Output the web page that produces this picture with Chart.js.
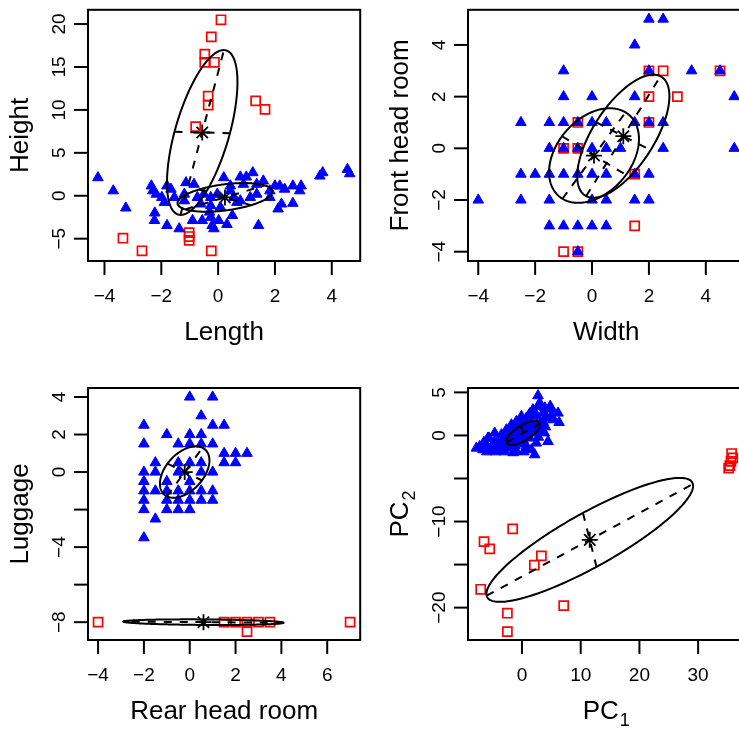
<!DOCTYPE html>
<html>
<head>
<meta charset="utf-8">
<script src="https://cdn.jsdelivr.net/npm/chart.js@4.4.1/dist/chart.umd.min.js"></script>
<style>
  html, body { margin: 0; padding: 0; background: #fff; width: 739px; height: 730px; overflow: hidden; }
  canvas { position: absolute; }
</style>
</head>
<body>
<canvas id="p1" width="370" height="365" style="left:0;top:0;width:370px;height:365px"></canvas>
<canvas id="p2" width="390" height="365" style="left:370px;top:0;width:390px;height:365px"></canvas>
<canvas id="p3" width="370" height="365" style="left:0;top:365px;width:370px;height:365px"></canvas>
<canvas id="p4" width="390" height="365" style="left:370px;top:365px;width:390px;height:365px"></canvas>
<script>
// ---- Panel 1: Length vs Height ----
const lengthHeightBlue = [
  [-4.23, 2.11], [-3.69, 0.58], [-3.25, -1.42], [-2.35, 1.15], [-2.30, 0.58],
  [-2.18, 0.19], [-1.80, 1.15], [-1.98, -0.19], [-1.89, -0.77], [-2.24, -2.88],
  [-1.80, -3.46], [-1.37, -3.84], [-1.13, 1.53], [-0.85, 1.34], [-1.19, 0.19],
  [-1.19, -0.58], [-0.90, -2.88], [-0.56, -2.88], [-0.26, -2.50], [-0.21, -3.46],
  [-0.15, -3.84], [0.02, -2.88], [0.31, -3.34], [0.20, 2.11], [0.43, 1.15],
  [0.78, 2.19], [0.99, 2.19], [1.22, 2.69], [0.89, 1.34], [1.36, 1.34],
  [1.59, 1.73], [1.82, 0.58], [2.00, 1.15], [2.17, 1.15], [2.34, 0.77],
  [2.63, 1.15], [2.92, 1.15], [2.87, 0.58], [2.23, -0.96], [2.11, -1.53],
  [2.63, -0.88], [1.42, -3.46], [3.58, 2.30], [3.68, 2.69], [4.55, 3.07],
  [4.63, 2.57], [-0.50, 0.19], [-0.26, -0.19], [-0.03, 0.19], [0.55, -0.19],
  [0.78, -0.58], [1.13, -0.19], [1.36, 0.19], [-0.61, -0.96], [-0.26, -1.15],
  [0.08, -1.34], [0.66, -0.77], [0.43, 0.58], [-0.73, -0.19], [-1.54, -0.19],
  [-1.66, 0.77], [1.82, -0.19], [-2.23, -2.0], [-0.30, -1.9], [0.50, -2.3]
];
const lengthHeightRed = [
  [0.10, 20.5], [-0.24, 18.5], [-0.47, 16.5], [-0.47, 15.55], [-0.13, 15.55],
  [-0.35, 11.6], [-0.35, 10.56], [1.32, 11.06], [1.65, 10.06], [-0.79, 8.06],
  [-3.35, -4.95], [-2.68, -6.41], [-1.02, -4.3], [-1.02, -4.75], [-1.02, -5.2],
  [-0.24, -6.42]
];
// ellipse: centre, x/y extent, correlation
const lengthHeightEllipses = [
  { cx: 0.24, cy: -0.19, sx: 1.67, sy: 1.67, r: 0.4 },
  { cx: -0.56, cy: 7.37, sx: 1.24, sy: 9.6, r: 0.61 }
];
const lengthTicks = [-4, -2, 0, 2, 4];
const heightTicks = [-5, 0, 5, 10, 15, 20];

// ---- Panel 2: Width vs Front head room ----
const widthFrontBlue = [
  [2, 5], [2.5, 5], [1.5, 4], [-1, 3], [2, 3], [3.5, 3], [4.5, 3],
  [-1, 2], [0, 2], [1.5, 2], [5, 2],
  [-2.5, 1], [-1.5, 1], [-1, 1], [-0.5, 1], [0, 1], [0.5, 1], [1.5, 1], [2, 1], [2.5, 1],
  [-1.5, 0], [-1, 0], [-0.5, 0], [0, 0], [0.5, 0], [1, 0], [2.5, 0], [5, 0],
  [-2.5, -1], [-2, -1], [-1.5, -1], [-1, -1], [-0.5, -1], [0, -1], [0.5, -1], [1.5, -1], [2, -1],
  [-4, -2], [-2.5, -2], [-1.5, -2], [0, -2], [0.5, -2], [1.5, -2], [2, -2],
  [-1.5, -3], [-1, -3], [-0.5, -3], [0, -3], [0.5, -3],
  [-0.5, -4]
];
const widthFrontRed = [
  [2, 3], [2.5, 3], [4.5, 3], [2, 2], [3, 2], [-0.5, 1], [2, 1],
  [-1, 0], [-0.5, 0], [1.5, -1], [1.5, -3], [-1, -4], [-0.5, -4]
];
const widthFrontEllipses = [
  { cx: 0.07, cy: -0.28, sx: 1.58, sy: 1.83, r: 0.35 },
  { cx: 1.10, cy: 0.47, sx: 1.62, sy: 2.38, r: 0.65 }
];
const widthTicks = [-4, -2, 0, 2, 4];
const frontTicks = [-4, -2, 0, 2, 4];

// ---- Panel 3: Rear head room vs Luggage ----
const rearLuggageBlue = [
  [0, 4], [1, 4], [0.5, 3], [-2, 2.5], [1, 2.5], [1.5, 2.5], [-1, 2], [0, 2], [0.5, 2],
  [-2, 1.5], [-0.5, 1.5], [0, 1.5], [0.5, 1.5], [1, 1.5], [1.5, 1], [2, 1], [2.5, 1],
  [-1.5, 0.5], [-0.5, 0.5], [0, 0.5], [0.5, 0.5], [1.5, 0.5], [2, 0.5],
  [-2, 0], [-1.5, 0], [-0.5, 0], [0.5, 0], [1, 0],
  [-2, -0.5], [-1, -0.5], [0, -0.5],
  [-2, -1], [-1.5, -1], [-1, -1], [-0.5, -1], [0, -1], [0.5, -1], [1, -1],
  [-2, -1.5], [-1, -1.5], [-0.5, -1.5], [0, -1.5], [0.5, -1.5], [1, -1.5],
  [-2, -2], [-1, -2], [-0.5, -2], [0, -2], [-1.5, -2.5], [-2, -3.5]
];
const rearLuggageRed = [
  [-4, -8], [1.5, -8], [2, -8], [2.5, -8], [2.5, -8.5], [3, -8], [3.5, -8], [7, -8]
];
const rearLuggageEllipses = [
  { cx: -0.22, cy: 0.0, sx: 1.08, sy: 1.37, r: 0.45 },
  { cx: 0.6, cy: -8.0, sx: 3.5, sy: 0.15, r: -0.2 }
];
const rearTicks = [-4, -2, 0, 2, 4, 6];
const luggageTicks = [-8, -6, -4, -2, 0, 2, 4];
const luggageLabels = [-8, -4, 0, 2, 4];

// ---- Panel 4: PC1 vs PC2 ----
const pcBlue = [
  [2.73, 4.62], [2.73, 3.38], [1.43, 2.6], [5.01, 3.07], [6.14, 2.6], [6.31, 1.51],
  [4.26, 2.02], [3.58, 1.63], [4.43, -0.7], [2.16, -2.24], [-5.62, -0.3], [-7.77, -1.47],
  [-6.65, -1.66], [-5.22, -1.66], [-4.09, -1.28], [-3.24, -0.7], [-2.66, 0.66], [-1.81, 1.24],
  [-0.95, 1.63], [-0.39, 1.05], [0.46, 1.44], [1.02, 0.66], [1.87, 0.28], [3.02, 0.66],
  [0.17, -0.5], [-0.95, -0.88], [-2.1, -1.47], [-0.95, -1.86], [0.75, -1.28], [1.31, -0.3],
  [-3.51, 0.08], [-4.65, 0.28], [-6.07, -1.08], [-1.53, 0.28], [-0.1, 2.21], [0.75, 2.02],
  [2.45, 1.44], [-2.66, -0.7], [-7.2, -1.28], [-4.65, -0.7], [-0.68, -0.12], [-2.38, -0.12],
  [2.45, -0.88], [1.6, -1.66], [-3.24, -1.66], [3.58, 2.6], [1.87, 2.99], [3.02, 3.77],
  [5.28, 1.83], [-5.8, -0.3], [-1.2, 0.9], [0.9, 0.1], [-1.9, -0.6], [1.5, 1.7],
  [-3.0, -1.9], [-1.5, -2.0], [0.3, -1.9], [-4.5, -1.9], [-6.0, -1.9], [-2.0, 0.3],
  [-1.0, 0.5], [0.0, 0.8], [1.0, 1.2], [2.0, 1.0], [3.0, 1.3], [4.0, 1.0],
  [5.0, 2.3], [4.8, 3.4], [3.9, 3.2], [2.5, 2.3], [1.2, 2.4], [0.2, 1.8],
  [-0.5, 0.2], [-3.0, -0.3], [-4.0, -0.9], [-5.0, -1.2], [-6.5, -0.8], [-2.5, -1.2],
  [-1.2, -1.2], [0.5, -1.0], [2.8, -0.2], [3.8, 0.3], [-3.5, -1.3], [-1.5, -0.3]
];
const pcRed = [
  [-1.59, -10.85], [-6.47, -12.33], [-5.5, -13.17], [3.3, -13.99], [2.1, -15.07],
  [-7.04, -17.87], [7.1, -19.77], [-2.49, -20.65], [-2.49, -22.79],
  [35.7, -2.1], [35.9, -2.6], [35.6, -3.0], [35.4, -3.5], [35.2, -3.8]
];
const pcEllipses = [
  { cx: 0.17, cy: 0.28, sx: 2.85, sy: 1.4, r: 0.7 },
  { cx: 11.54, cy: -12.13, sx: 17.6, sy: 7.2, r: 0.87 }
];
const pc1Ticks = [0, 10, 20, 30];
const pc2Ticks = [-20, -15, -10, -5, 0, 5];
const pc2Labels = [-20, -10, 0, 5];

const FONT = '"Liberation Sans", Arial, Helvetica, sans-serif';

function fmtTick(v) {
  return v < 0 ? "\u2212" + Math.abs(v) : String(v);
}

function drawEllipse(ctx, xs, ys, e) {
  const d = Math.acos(e.r);
  ctx.setLineDash([]);
  ctx.beginPath();
  for (let i = 0; i <= 240; i++) {
    const t = (i / 240) * Math.PI * 2;
    const px = xs.getPixelForValue(e.cx + e.sx * Math.cos(t + d / 2));
    const py = ys.getPixelForValue(e.cy + e.sy * Math.cos(t - d / 2));
    if (i === 0) ctx.moveTo(px, py); else ctx.lineTo(px, py);
  }
  ctx.closePath();
  ctx.stroke();

  // principal axes of the matching covariance, drawn dashed
  const a = e.sx * e.sx, c = e.sy * e.sy, b = e.r * e.sx * e.sy;
  const m = (a + c) / 2, h = Math.sqrt(((a - c) / 2) ** 2 + b * b);
  ctx.setLineDash([8, 8]);
  [m + h, m - h].forEach((lam) => {
    let vx = b, vy = lam - a;
    const n = Math.hypot(vx, vy);
    vx /= n; vy /= n;
    const len = Math.sqrt(lam);
    ctx.beginPath();
    ctx.moveTo(xs.getPixelForValue(e.cx - len * vx), ys.getPixelForValue(e.cy - len * vy));
    ctx.lineTo(xs.getPixelForValue(e.cx + len * vx), ys.getPixelForValue(e.cy + len * vy));
    ctx.stroke();
  });
  ctx.setLineDash([]);
}

function drawTitle(ctx, parts, cx, cy, rotate) {
  ctx.save();
  ctx.translate(cx, cy);
  if (rotate) ctx.rotate(-Math.PI / 2);
  ctx.fillStyle = "#000";
  ctx.textAlign = "left";
  ctx.textBaseline = "alphabetic";
  ctx.font = `26px ${FONT}`;
  const w1 = ctx.measureText(parts[0]).width;
  ctx.font = `18px ${FONT}`;
  const w2 = parts[1] ? ctx.measureText(parts[1]).width + 1 : 0;
  const x0 = -(w1 + w2) / 2;
  ctx.font = `26px ${FONT}`;
  ctx.fillText(parts[0], x0, 9);
  if (parts[1]) {
    ctx.font = `18px ${FONT}`;
    ctx.fillText(parts[1], x0 + w1 + 1, 16);
  }
  ctx.restore();
}

// R-style frame: box, outward ticks, parallel labels, ellipses on top of the points
const rFramePlugin = {
  id: "rFrame",
  afterDatasetsDraw(chart, args, opts) {
    const { ctx, chartArea: area, scales } = chart;
    ctx.save();
    ctx.beginPath();
    ctx.rect(area.left, area.top, area.right - area.left, area.bottom - area.top);
    ctx.clip();
    ctx.strokeStyle = "#000";
    ctx.lineWidth = 2;
    opts.ellipses.forEach((e) => drawEllipse(ctx, scales.x, scales.y, e));
    ctx.restore();
  },
  afterDraw(chart, args, opts) {
    const { ctx, chartArea: area, scales } = chart;
    const xs = scales.x, ys = scales.y;
    ctx.save();
    ctx.strokeStyle = "#000";
    ctx.fillStyle = "#000";
    ctx.lineWidth = 2;
    ctx.setLineDash([]);
    ctx.strokeRect(area.left, area.top, area.right - area.left, area.bottom - area.top);

    ctx.font = `19px ${FONT}`;
    ctx.textAlign = "center";
    ctx.textBaseline = "alphabetic";
    opts.xTicks.forEach((v) => {
      const px = xs.getPixelForValue(v);
      ctx.beginPath();
      ctx.moveTo(px, area.bottom);
      ctx.lineTo(px, area.bottom + 14);
      ctx.stroke();
      ctx.fillText(fmtTick(v), px, area.bottom + 34 + 6.8);
    });
    opts.yTicks.forEach((v) => {
      const py = ys.getPixelForValue(v);
      ctx.beginPath();
      ctx.moveTo(area.left, py);
      ctx.lineTo(area.left - 14, py);
      ctx.stroke();
      if (opts.yLabels.includes(v)) {
        ctx.save();
        ctx.translate(area.left - 30 + 6.8, py);
        ctx.rotate(-Math.PI / 2);
        ctx.fillText(fmtTick(v), 0, 0);
        ctx.restore();
      }
    });

    const midX = (area.left + area.right) / 2;
    const midY = (area.top + area.bottom) / 2;
    drawTitle(ctx, opts.xTitle, midX, area.bottom + 70, false);
    drawTitle(ctx, opts.yTitle, area.left - 69, midY, true);
    ctx.restore();
  }
};

function toPoints(pairs) {
  return pairs.map(([x, y]) => ({ x, y }));
}

function makePanel(cfg) {
  const canvas = document.getElementById(cfg.id);
  return new Chart(canvas, {
    type: "scatter",
    data: {
      datasets: [
        {
          data: toPoints(cfg.blue),
          pointStyle: "triangle",
          pointRadius: 6.1,
          backgroundColor: "#0000ff",
          borderColor: "#0000ff",
          borderWidth: 1
        },
        {
          data: toPoints(cfg.red),
          pointStyle: "rect",
          pointRadius: 6.4,
          backgroundColor: "rgba(0,0,0,0)",
          borderColor: "#ff0000",
          borderWidth: 1.7
        },
        {
          data: cfg.ellipses.map((e) => ({ x: e.cx, y: e.cy })),
          pointStyle: "star",
          pointRadius: 8,
          backgroundColor: "#000",
          borderColor: "#000",
          borderWidth: 1.8
        }
      ]
    },
    options: {
      responsive: false,
      devicePixelRatio: 1,
      animation: false,
      events: [],
      layout: { padding: cfg.padding },
      plugins: {
        legend: { display: false },
        tooltip: { enabled: false },
        rFrame: {
          ellipses: cfg.ellipses,
          xTicks: cfg.xTicks,
          yTicks: cfg.yTicks,
          yLabels: cfg.yLabels,
          xTitle: cfg.xTitle,
          yTitle: cfg.yTitle
        }
      },
      scales: {
        x: { type: "linear", display: false, min: cfg.xRange[0], max: cfg.xRange[1] },
        y: { type: "linear", display: false, min: cfg.yRange[0], max: cfg.yRange[1] }
      }
    },
    plugins: [rFramePlugin]
  });
}

makePanel({
  id: "p1", blue: lengthHeightBlue, red: lengthHeightRed, ellipses: lengthHeightEllipses,
  xRange: [-4.58, 5.0], yRange: [-7.6, 21.66],
  xTicks: lengthTicks, yTicks: heightTicks, yLabels: heightTicks,
  xTitle: ["Length"], yTitle: ["Height"],
  padding: { left: 88, right: 7, top: 7, bottom: 104 }
});
makePanel({
  id: "p2", blue: widthFrontBlue, red: widthFrontRed, ellipses: widthFrontEllipses,
  xRange: [-4.36, 5.36], yRange: [-4.36, 5.36],
  xTicks: widthTicks, yTicks: frontTicks, yLabels: frontTicks,
  xTitle: ["Width"], yTitle: ["Front head room"],
  padding: { left: 98, right: 15.5, top: 7, bottom: 104 }
});
makePanel({
  id: "p3", blue: rearLuggageBlue, red: rearLuggageRed, ellipses: rearLuggageEllipses,
  xRange: [-4.44, 7.44], yRange: [-8.95, 4.48],
  xTicks: rearTicks, yTicks: luggageTicks, yLabels: luggageLabels,
  xTitle: ["Rear head room"], yTitle: ["Luggage"],
  padding: { left: 88, right: 7, top: 23, bottom: 90 }
});
makePanel({
  id: "p4", blue: pcBlue, red: pcRed, ellipses: pcEllipses,
  xRange: [-9.2, 37.9], yRange: [-23.76, 5.51],
  xTicks: pc1Ticks, yTicks: pc2Ticks, yLabels: pc2Labels,
  xTitle: ["PC", "1"], yTitle: ["PC", "2"],
  padding: { left: 98, right: 15.5, top: 23, bottom: 90 }
});
</script>
</body>
</html>
